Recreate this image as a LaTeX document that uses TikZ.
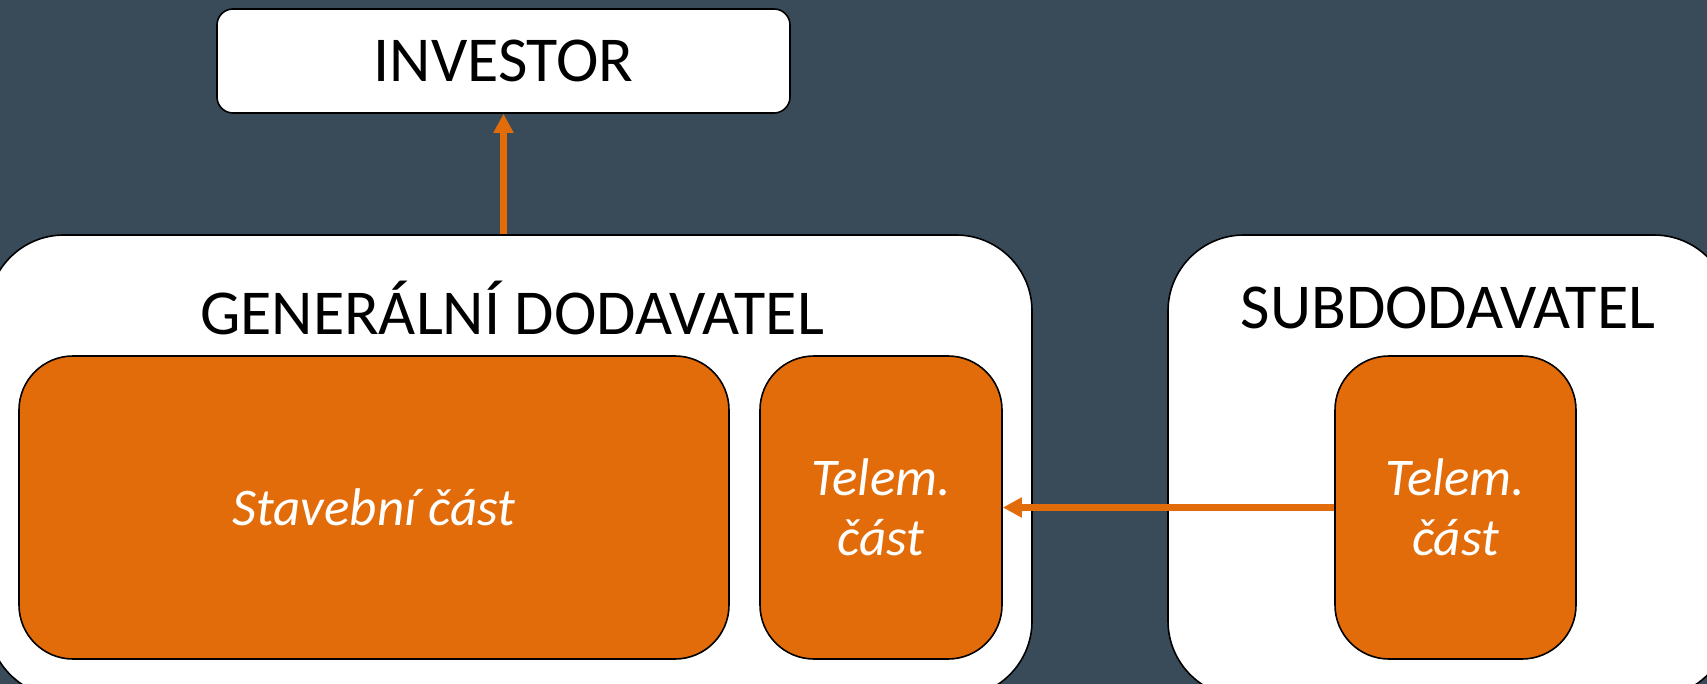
\documentclass[tikz,border=0pt]{standalone}
\usepackage{fontspec}
\setmainfont{Carlito}
\usetikzlibrary{positioning}
\usetikzlibrary{arrows.meta}
\definecolor{slate}{HTML}{394B59}
\definecolor{accent}{HTML}{E36C0A}
\tikzset{
	party/.style={draw=black, fill=white, line width=0.8pt, rounded corners=38pt,
		inner sep=0pt, text=black},
	part/.style={draw=black, fill=accent, line width=0.8pt, rounded corners=27pt,
		inner sep=0pt, minimum height=151.5pt, text=white, align=center,
		font=\fontsize{26.5}{30}\selectfont\itshape},
	title/.style={inner sep=0pt, text=black, font=\fontsize{32}{38}\selectfont},
	flow/.style={draw=accent, line width=3.3pt, -{Triangle[length=9.5pt,width=9.5pt]}},
}
\begin{document}
\begin{tikzpicture}[x=0.5pt, y=-0.5pt]
	\fill[slate] (0,0) rectangle (1707,684);
	\useasboundingbox (0,0) rectangle (1707,684);
	\clip (0,0) rectangle (1707,684);
	% investor
	\node[party, rounded corners=8pt, minimum width=286.5pt, minimum height=52pt,
		font=\fontsize{32}{38}\selectfont] (inv) at (503.5,61) {INVESTOR};
	% general contractor
	\node[party, minimum width=522pt, minimum height=231pt] (gd) at (510,466) {};
	\node[title] (gdtitle) at (512,308) {GENERÁLNÍ DODAVATEL};
	\node[part, minimum width=355pt] (stav) at (374,507.5) {Stavební část};
	\node[part, minimum width=121pt] (telgd) at (881,507.5) {Telem.\\část};
	% subcontractor
	\node[party, minimum width=281pt, minimum height=231pt] (sub) at (1449,466) {};
	\node[title] (subtitle) at (1448,308) {SUBDODAVATEL};
	\node[part, minimum width=120.5pt] (telsub) at (1455.5,507.5) {Telem.\\část};
	% arrows
	\draw[flow] (gd.north -| inv.south) -- (inv.south);
	\draw[flow] (telsub.west) -- (telgd.east);
\end{tikzpicture}
\end{document}
